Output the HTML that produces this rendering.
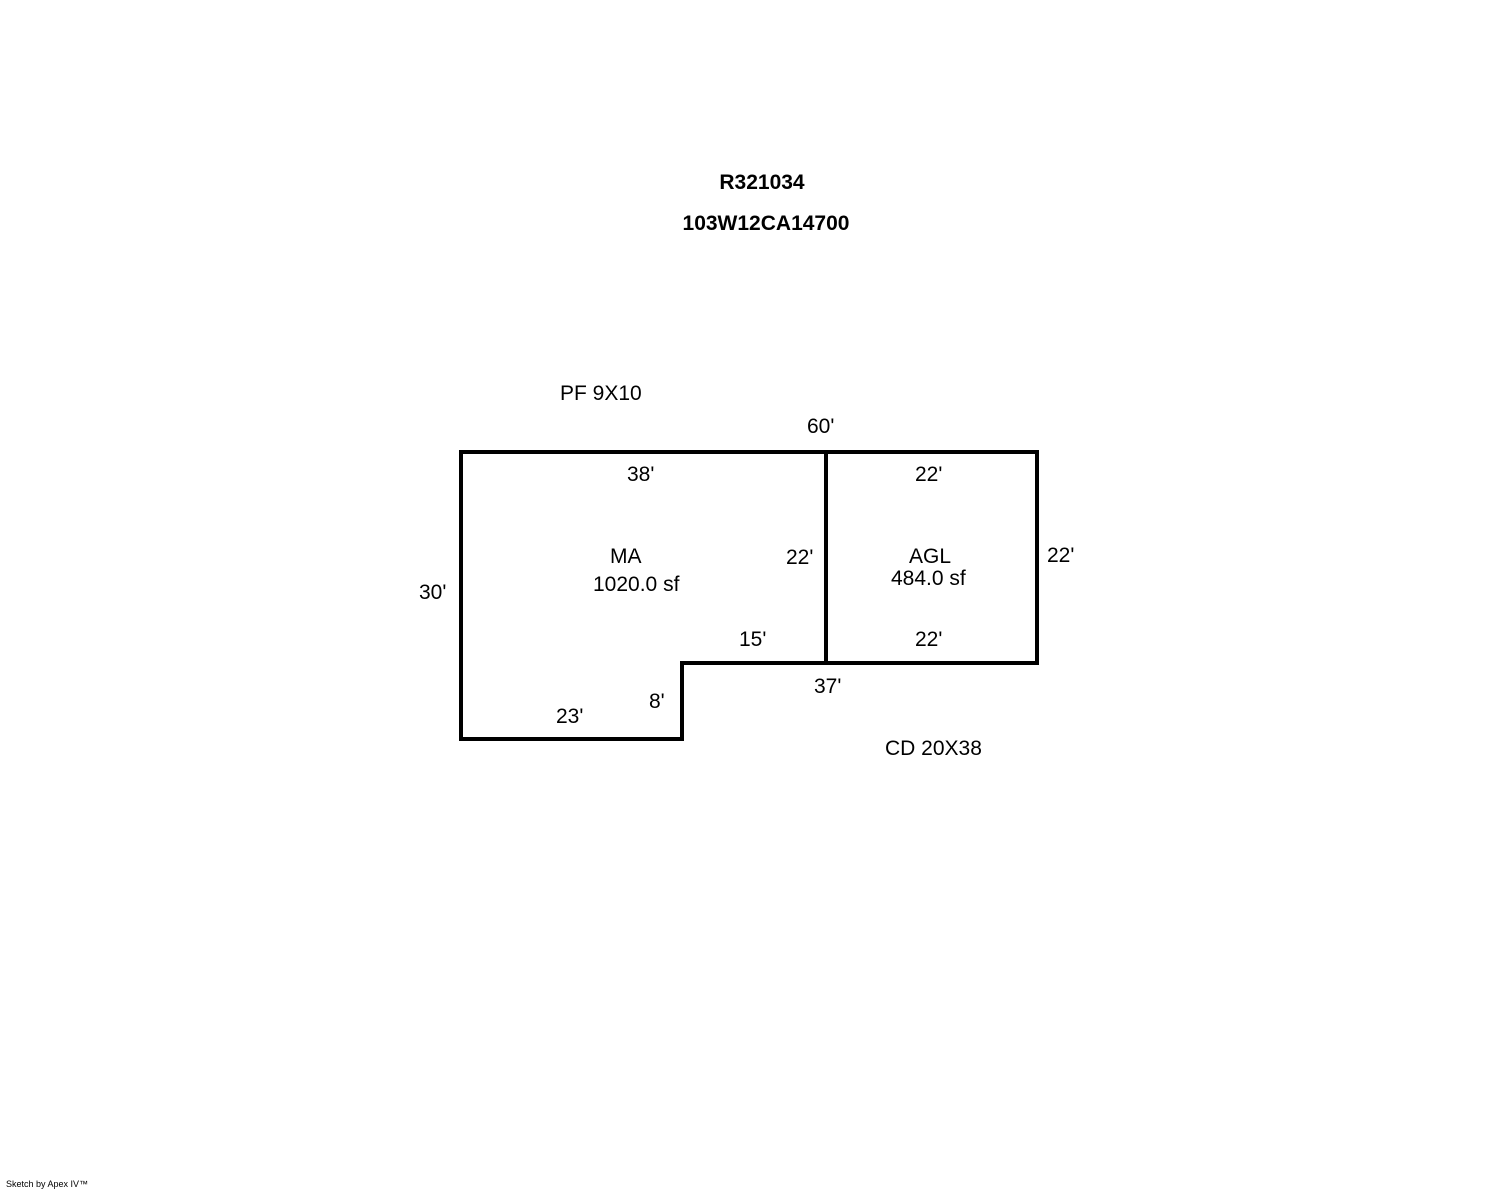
<!DOCTYPE html>
<html><head><style>body{margin:0;background:#fff}svg{display:block}</style></head><body>
<svg width="1488" height="1190" xmlns="http://www.w3.org/2000/svg" font-family="Liberation Sans, Arial, sans-serif" font-size="21" fill="#000">
<rect width="1488" height="1190" fill="#fff"/>
<g fill="none" stroke="#000" stroke-width="4">
<path d="M461 452 H1037 V663 H682 V739 H461 Z"/>
<path d="M826 452 V663"/>
</g>
<g font-weight="bold" text-anchor="middle">
<text x="762" y="189">R321034</text>
<text x="766" y="230">103W12CA14700</text>
</g>
<text x="560" y="400">PF 9X10</text>
<text x="807" y="433">60'</text>
<text x="627" y="481">38'</text>
<text x="915" y="481">22'</text>
<text x="610" y="563">MA</text>
<text x="593" y="591">1020.0 sf</text>
<text x="786" y="564">22'</text>
<text x="909" y="563">AGL</text>
<text x="891" y="585">484.0 sf</text>
<text x="1047" y="562">22'</text>
<text x="419" y="599">30'</text>
<text x="739" y="646">15'</text>
<text x="915" y="646">22'</text>
<text x="814" y="693">37'</text>
<text x="649" y="708">8'</text>
<text x="556" y="723">23'</text>
<text x="885" y="755">CD 20X38</text>
<text x="6" y="1187" font-size="9">Sketch by Apex IV™</text>
</svg>
</body></html>
